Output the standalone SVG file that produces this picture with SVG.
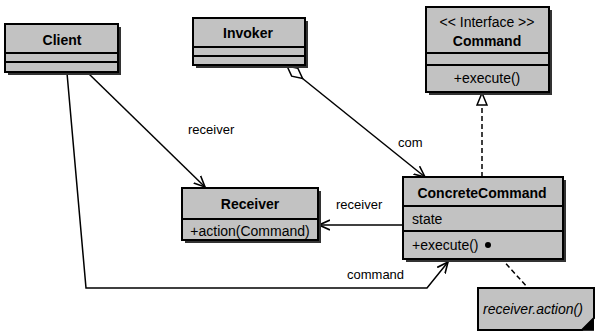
<svg xmlns="http://www.w3.org/2000/svg" width="596" height="331" viewBox="0 0 596 331">
<style>
.box{fill:#c2c2c2;stroke:#000;stroke-width:2}
.shadow{fill:#333}
.div{stroke:#000;stroke-width:2}
.name{font-family:"Liberation Sans",Arial,sans-serif;font-size:14px;font-weight:bold;text-anchor:middle;fill:#000}
.op{font-family:"Liberation Sans",Arial,sans-serif;font-size:14px;fill:#000}
.lbl{font-family:"Liberation Sans",Arial,sans-serif;font-size:13px;fill:#000}
.conn{fill:none;stroke:#000;stroke-width:1.5}
.dash{fill:none;stroke:#000;stroke-width:1.5;stroke-dasharray:5,3}
</style>
<defs>
<marker id="open" viewBox="0 0 12 12" refX="11" refY="6" markerWidth="12" markerHeight="12" markerUnits="userSpaceOnUse" orient="auto">
<path d="M0,1 L11,6 L0,11" fill="none" stroke="#000" stroke-width="1.6"/>
</marker>
<marker id="tri" viewBox="0 0 14 12" refX="13" refY="6" markerWidth="14" markerHeight="12" markerUnits="userSpaceOnUse" orient="auto">
<path d="M1,1 L13,6 L1,11 Z" fill="#fff" stroke="#000" stroke-width="1.5"/>
</marker>
<marker id="diamond" viewBox="0 0 22 12" refX="1" refY="6" markerWidth="22" markerHeight="12" markerUnits="userSpaceOnUse" orient="auto">
<path d="M1,6 L11,1 L21,6 L11,11 Z" fill="#fff" stroke="#000" stroke-width="1.5"/>
</marker>
</defs>

<g id="connectors">
<line class="conn" x1="88" y1="73" x2="205" y2="187" marker-end="url(#open)"/>
<text class="lbl" x="188" y="134">receiver</text>
<polyline class="conn" points="67,73 86,288 427,288 448,262" marker-end="url(#open)"/>
<text class="lbl" x="347" y="279">command</text>
<line class="conn" x1="287" y1="66" x2="425" y2="177" marker-start="url(#diamond)" marker-end="url(#open)"/>
<text class="lbl" x="398" y="147">com</text>
<line class="conn" x1="402" y1="225" x2="319" y2="225" marker-end="url(#open)"/>
<text class="lbl" x="336" y="209">receiver</text>
<line class="dash" x1="482" y1="177" x2="482" y2="93" marker-end="url(#tri)"/>
<line class="dash" x1="490" y1="246" x2="528" y2="288"/>
</g>

<g id="client">
<rect class="shadow" x="8" y="27" width="113" height="48"/>
<rect class="box" x="5" y="24" width="113" height="48"/>
<line class="div" x1="5" y1="53" x2="118" y2="53"/>
<line class="div" x1="5" y1="62" x2="118" y2="62"/>
<text class="name" x="62" y="45">Client</text>
</g>

<g id="invoker">
<rect class="shadow" x="196" y="21" width="112" height="47"/>
<rect class="box" x="193" y="18" width="112" height="47"/>
<line class="div" x1="193" y1="47" x2="305" y2="47"/>
<line class="div" x1="193" y1="56" x2="305" y2="56"/>
<text class="name" x="248" y="38">Invoker</text>
</g>

<g id="command">
<rect class="shadow" x="429" y="10" width="123" height="85"/>
<rect class="box" x="426" y="7" width="123" height="85"/>
<line class="div" x1="426" y1="53" x2="549" y2="53"/>
<line class="div" x1="426" y1="65" x2="549" y2="65"/>
<text class="op" x="487" y="27" text-anchor="middle" font-size="13">&lt;&lt; Interface &gt;&gt;</text>
<text class="name" x="487" y="46">Command</text>
<text class="op" x="487" y="83" text-anchor="middle">+execute()</text>
</g>

<g id="receiver">
<rect class="shadow" x="185" y="191" width="136" height="52"/>
<rect class="box" x="182" y="188" width="136" height="52"/>
<line class="div" x1="182" y1="219" x2="318" y2="219"/>
<text class="name" x="250" y="209">Receiver</text>
<text class="op" x="250" y="236" text-anchor="middle">+action(Command)</text>
</g>

<g id="concretecommand">
<rect class="shadow" x="406" y="180" width="160" height="82"/>
<rect class="box" x="403" y="177" width="160" height="82"/>
<line class="div" x1="403" y1="206" x2="563" y2="206"/>
<line class="div" x1="403" y1="231" x2="563" y2="231"/>
<text class="name" x="482" y="198">ConcreteCommand</text>
<text class="op" x="412" y="224">state</text>
<text class="op" x="412" y="250">+execute()</text>
<circle cx="488" cy="245" r="3" fill="#000"/>
</g>

<g id="note">
<rect class="shadow" x="481" y="291" width="113" height="40"/>
<path d="M478,288 L594,288 L594,318 L582,330 L478,330 Z" fill="#c2c2c2" stroke="#000" stroke-width="2"/>
<path d="M594,318 L582,330 L594,330 Z" fill="#000"/>
<text class="op" x="483" y="314" font-style="italic">receiver.action()</text>
</g>
</svg>
